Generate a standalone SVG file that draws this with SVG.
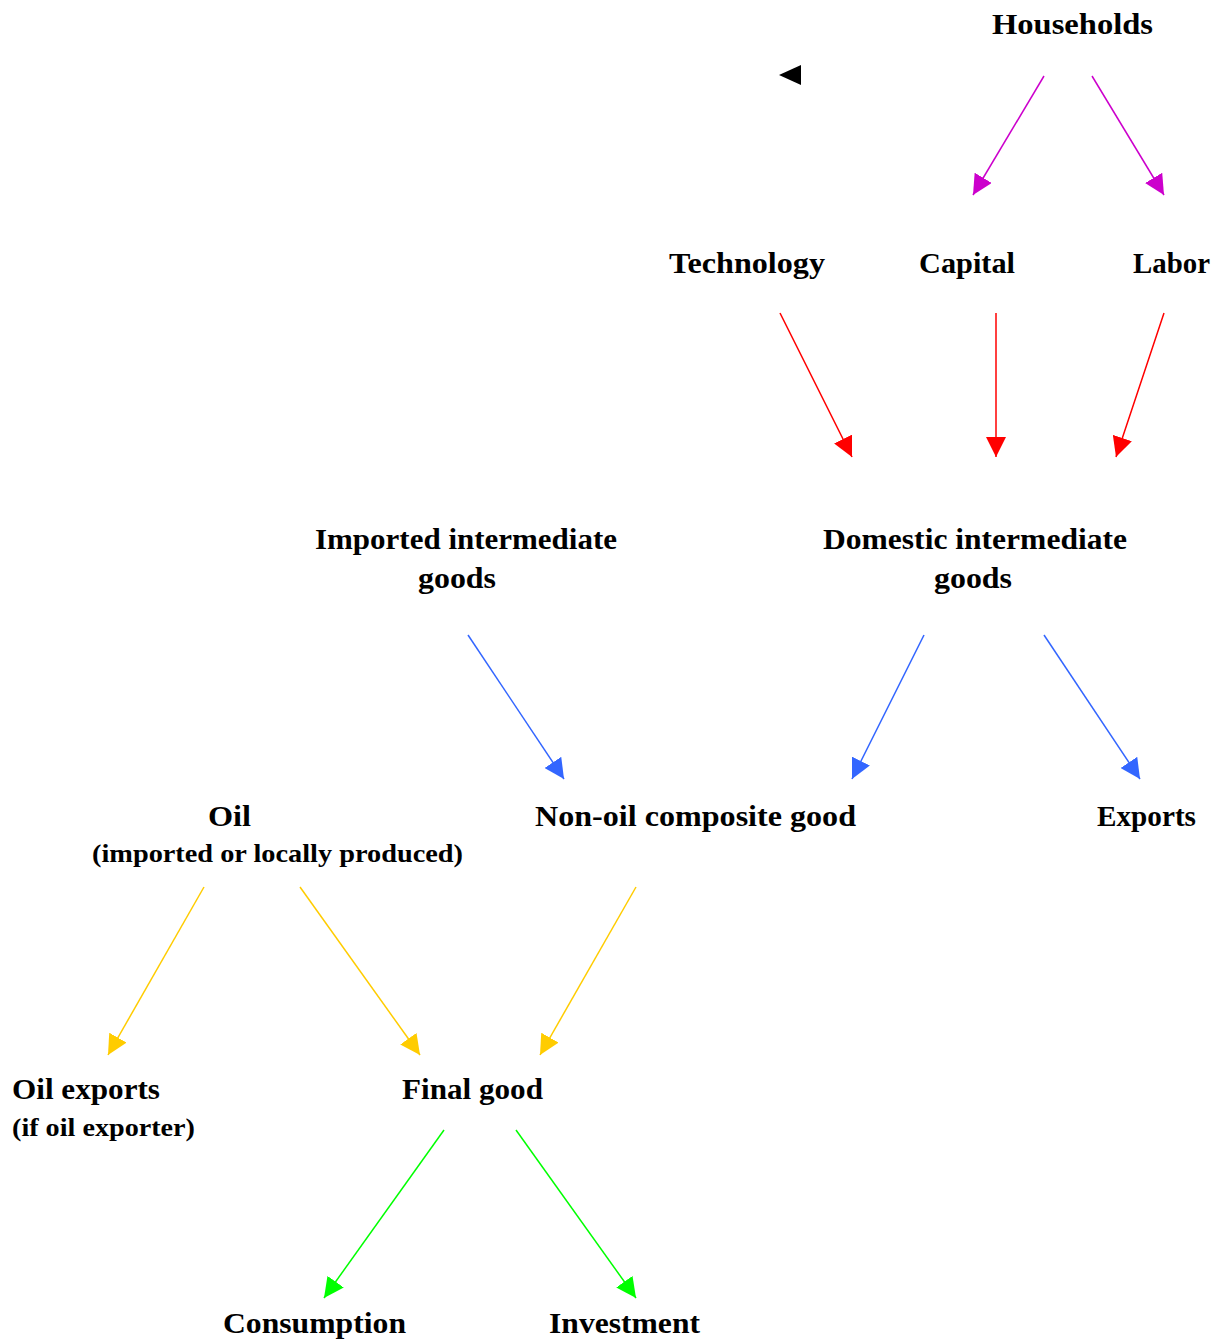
<svg xmlns="http://www.w3.org/2000/svg" width="1217" height="1342" viewBox="0 0 1217 1342">
<style>
text{font-family:"Liberation Serif","Times New Roman",serif;font-weight:bold;fill:#000;}
.l{font-size:29px;}
.s{font-size:25px;}
line{stroke-width:1.5;fill:none;}
.m{stroke:#CC00CC;marker-end:url(#am);}
.r{stroke:#FF0000;marker-end:url(#ar);}
.b{stroke:#3366FF;marker-end:url(#ab);}
.y{stroke:#FFCC00;marker-end:url(#ay);}
.g{stroke:#00FF00;marker-end:url(#ag);}
</style>
<defs>
<marker id="am" markerUnits="userSpaceOnUse" markerWidth="20" markerHeight="20" viewBox="0 0 20 20" refX="20" refY="10" orient="auto"><path d="M0,0 L20,10 L0,20 z" fill="#CC00CC"/></marker>
<marker id="ar" markerUnits="userSpaceOnUse" markerWidth="20" markerHeight="20" viewBox="0 0 20 20" refX="20" refY="10" orient="auto"><path d="M0,0 L20,10 L0,20 z" fill="#FF0000"/></marker>
<marker id="ab" markerUnits="userSpaceOnUse" markerWidth="20" markerHeight="20" viewBox="0 0 20 20" refX="20" refY="10" orient="auto"><path d="M0,0 L20,10 L0,20 z" fill="#3366FF"/></marker>
<marker id="ay" markerUnits="userSpaceOnUse" markerWidth="20" markerHeight="20" viewBox="0 0 20 20" refX="20" refY="10" orient="auto"><path d="M0,0 L20,10 L0,20 z" fill="#FFCC00"/></marker>
<marker id="ag" markerUnits="userSpaceOnUse" markerWidth="20" markerHeight="20" viewBox="0 0 20 20" refX="20" refY="10" orient="auto"><path d="M0,0 L20,10 L0,20 z" fill="#00FF00"/></marker>
</defs>
<rect width="1217" height="1342" fill="#fff"/>
<g id="connectors">
<polygon points="779,75 801,65 801,85" fill="#000"/>
<line class="m" x1="1044" y1="76" x2="973" y2="195"/>
<line class="m" x1="1092" y1="76" x2="1164" y2="195"/>
<line class="r" x1="780" y1="313" x2="852" y2="457"/>
<line class="r" x1="996" y1="313" x2="996" y2="457"/>
<line class="r" x1="1164" y1="313" x2="1116" y2="457"/>
<line class="b" x1="468" y1="635" x2="564" y2="779"/>
<line class="b" x1="924" y1="635" x2="852" y2="779"/>
<line class="b" x1="1044" y1="635" x2="1140" y2="779"/>
<line class="y" x1="204" y1="887" x2="108" y2="1055"/>
<line class="y" x1="300" y1="887" x2="420" y2="1055"/>
<line class="y" x1="636" y1="887" x2="540" y2="1055"/>
<line class="g" x1="444" y1="1130" x2="324" y2="1298"/>
<line class="g" x1="516" y1="1130" x2="636" y2="1298"/>
</g>
<g id="households"><text class="l" x="992" y="34" textLength="161" lengthAdjust="spacingAndGlyphs">Households</text></g>
<g id="technology"><text class="l" x="669" y="273" textLength="156" lengthAdjust="spacingAndGlyphs">Technology</text></g>
<g id="capital"><text class="l" x="919" y="273" textLength="96" lengthAdjust="spacingAndGlyphs">Capital</text></g>
<g id="labor"><text class="l" x="1133" y="273" textLength="77" lengthAdjust="spacingAndGlyphs">Labor</text></g>
<g id="imported">
<text class="l" x="315" y="549" textLength="302" lengthAdjust="spacingAndGlyphs">Imported intermediate</text>
<text class="l" x="418" y="588" textLength="78" lengthAdjust="spacingAndGlyphs">goods</text>
</g>
<g id="domestic">
<text class="l" x="823" y="549" textLength="304" lengthAdjust="spacingAndGlyphs">Domestic intermediate</text>
<text class="l" x="934" y="588" textLength="78" lengthAdjust="spacingAndGlyphs">goods</text>
</g>
<g id="oil">
<text class="l" x="208" y="826" textLength="43" lengthAdjust="spacingAndGlyphs">Oil</text>
<text class="s" x="92" y="862" textLength="371" lengthAdjust="spacingAndGlyphs">(imported or locally produced)</text>
</g>
<g id="nonoil"><text class="l" x="535" y="826" textLength="321" lengthAdjust="spacingAndGlyphs">Non-oil composite good</text></g>
<g id="exports"><text class="l" x="1097" y="826" textLength="99" lengthAdjust="spacingAndGlyphs">Exports</text></g>
<g id="oilexports">
<text class="l" x="12" y="1099" textLength="148" lengthAdjust="spacingAndGlyphs">Oil exports</text>
<text class="s" x="12" y="1136" textLength="183" lengthAdjust="spacingAndGlyphs">(if oil exporter)</text>
</g>
<g id="finalgood"><text class="l" x="402" y="1099" textLength="141" lengthAdjust="spacingAndGlyphs">Final good</text></g>
<g id="consumption"><text class="l" x="223" y="1333" textLength="183" lengthAdjust="spacingAndGlyphs">Consumption</text></g>
<g id="investment"><text class="l" x="549" y="1333" textLength="151" lengthAdjust="spacingAndGlyphs">Investment</text></g>
</svg>
